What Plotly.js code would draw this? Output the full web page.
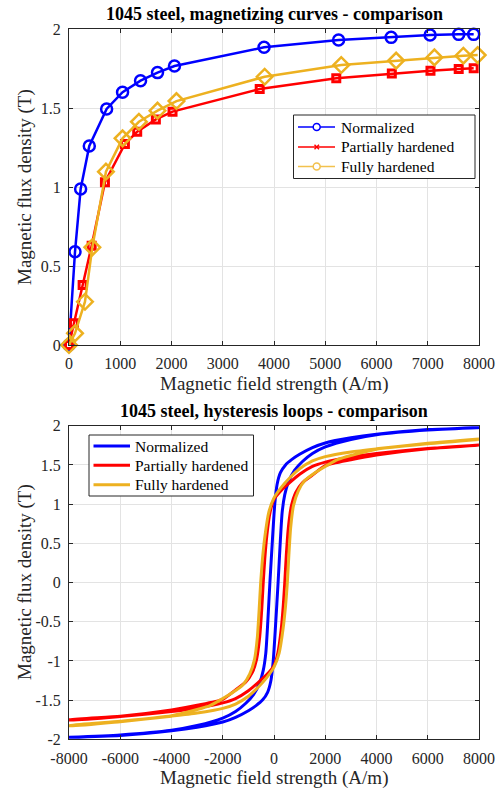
<!DOCTYPE html>
<html>
<head>
<meta charset="utf-8">
<script src="https://cdn.plot.ly/plotly-3.0.1.min.js"></script>
<style>html,body{margin:0;padding:0;background:#fff;}#chart{width:504px;height:788px;}</style>
</head>
<body>
<div id="chart"></div>
<script>
// ---- Magnetizing curves (top) ----
const normH = [0,117,227,396,734,1045,1396,1727,2058,3806,5260,6286,7046,7604,7896];
const normB = [0,0.59,0.987,1.26,1.494,1.60,1.673,1.724,1.766,1.884,1.930,1.947,1.962,1.966,1.966];
const partH = [0,97,266,442,701,1091,1331,1695,2020,3721,5215,6299,7053,7604,7896];
const partB = [0,0.137,0.38,0.628,1.03,1.272,1.35,1.428,1.477,1.62,1.688,1.719,1.736,1.747,1.751];
const fullH = [0,117,312,455,721,1045,1364,1727,2097,3818,5312,6383,7130,7695,7974];
const fullB = [0,0.074,0.274,0.618,1.097,1.308,1.413,1.483,1.544,1.698,1.772,1.80,1.82,1.831,1.835];

// ---- Hysteresis loops (bottom): descending branch then ascending branch ----
const normDescH = [8000,6000,4000,3000,2000,1500,1000,700,450,250,120,30,-60,-160,-250,-320,-420,-560,-800,-1100,-1500,-2000,-3000,-4000,-6000,-8000];
const normDescB = [1.975,1.95,1.89,1.845,1.78,1.72,1.635,1.57,1.50,1.40,1.25,1.0,0.55,0,-0.55,-0.9,-1.12,-1.28,-1.43,-1.54,-1.645,-1.73,-1.825,-1.885,-1.945,-1.975];
const normAscH = [-8000,-6000,-4000,-3000,-2000,-1500,-1000,-700,-450,-250,-120,-30,60,160,250,320,420,560,800,1100,1500,2000,3000,4000,6000,8000];
const normAscB = [-1.975,-1.95,-1.89,-1.845,-1.78,-1.72,-1.635,-1.57,-1.50,-1.40,-1.25,-1.0,-0.55,0,0.55,0.9,1.12,1.28,1.43,1.54,1.645,1.73,1.825,1.885,1.945,1.975];

const partDescH = [8000,6000,4000,3000,2000,1500,1000,600,300,0,-150,-280,-360,-420,-480,-560,-680,-850,-1100,-1500,-2000,-3000,-4000,-6000,-8000];
const partDescB = [1.755,1.71,1.645,1.60,1.535,1.48,1.38,1.27,1.18,1.06,0.9,0.6,0.3,0,-0.35,-0.7,-0.98,-1.15,-1.27,-1.37,-1.49,-1.565,-1.625,-1.705,-1.75];
const partAscH = [-8000,-6000,-4000,-3000,-2000,-1500,-1000,-600,-300,0,150,280,360,420,480,560,680,850,1100,1500,2000,3000,4000,6000,8000];
const partAscB = [-1.755,-1.71,-1.645,-1.60,-1.535,-1.48,-1.38,-1.27,-1.18,-1.06,-0.9,-0.6,-0.3,0,0.35,0.7,0.98,1.15,1.27,1.37,1.49,1.565,1.625,1.705,1.75];

const fullDescH = [8000,6000,4000,3000,2000,1500,1000,600,300,0,-200,-350,-450,-520,-580,-650,-760,-950,-1200,-1600,-2000,-2500,-3000,-4000,-6000,-8000];
const fullDescB = [1.83,1.775,1.705,1.665,1.605,1.55,1.45,1.33,1.22,1.08,0.9,0.6,0.3,0,-0.35,-0.7,-0.98,-1.17,-1.30,-1.40,-1.48,-1.57,-1.62,-1.70,-1.77,-1.825];
const fullAscH = [-8000,-6000,-4000,-3000,-2000,-1500,-1000,-600,-300,0,200,350,450,520,580,650,760,950,1200,1600,2000,2500,3000,4000,6000,8000];
const fullAscB = [-1.83,-1.775,-1.705,-1.665,-1.605,-1.55,-1.45,-1.33,-1.22,-1.08,-0.9,-0.6,-0.3,0,0.35,0.7,0.98,1.17,1.30,1.40,1.48,1.57,1.62,1.70,1.77,1.825];

const seriesNames = ['Normalized','Partially hardened','Fully hardened'];
const colors = ['#0000FF','#FF0000','#EDB120'];
const legendColors = ['#0000FF','#FF0000','#F2C14E'];

const topXTicks = [0,1000,2000,3000,4000,5000,6000,7000,8000];
const topYTicks = [0,0.5,1,1.5,2];
const topYText = ['0','0.5','1','1.5','2'];
const botXTicks = [-8000,-6000,-4000,-2000,0,2000,4000,6000,8000];
const botXText = ['-8000','-6000','-4000','-2000','0','2000','4000','6000','8000'];
const botYTicks = [-2,-1.5,-1,-0.5,0,0.5,1,1.5,2];
const botYText = ['-2','-1.5','-1','-0.5','0','0.5','1','1.5','2'];

const serif = 'Liberation Serif';
const axCol = '#262626';
const W = 504, H = 788;
const px = v => v / W;
const py = v => 1 - v / H;

const traces = [
  {x: normH, y: normB, type:'scatter', mode:'lines+markers', xaxis:'x', yaxis:'y', showlegend:false, cliponaxis:false,
   line:{color:colors[0], width:2.5}, marker:{symbol:'circle-open', size:11, color:colors[0], line:{width:2.5, color:colors[0]}}},
  {x: partH, y: partB, type:'scatter', mode:'lines+markers', xaxis:'x', yaxis:'y', showlegend:false, cliponaxis:false,
   line:{color:colors[1], width:2.5}, marker:{symbol:'square-open', size:7, color:colors[1], line:{width:3, color:colors[1]}}},
  {x: fullH, y: fullB, type:'scatter', mode:'lines+markers', xaxis:'x', yaxis:'y', showlegend:false, cliponaxis:false,
   line:{color:colors[2], width:2.5}, marker:{symbol:'diamond-open', size:12, color:colors[2], line:{width:2.5, color:colors[2]}}},
  {x: normDescH.concat(normAscH), y: normDescB.concat(normAscB), type:'scatter', mode:'lines', xaxis:'x2', yaxis:'y2',
   showlegend:false, line:{color:colors[0], width:3, shape:'spline', smoothing:0.6}},
  {x: partDescH.concat(partAscH), y: partDescB.concat(partAscB), type:'scatter', mode:'lines', xaxis:'x2', yaxis:'y2',
   showlegend:false, line:{color:colors[1], width:3, shape:'spline', smoothing:0.6}},
  {x: fullDescH.concat(fullAscH), y: fullDescB.concat(fullAscB), type:'scatter', mode:'lines', xaxis:'x2', yaxis:'y2',
   showlegend:false, line:{color:colors[2], width:3, shape:'spline', smoothing:0.6}}
];

const axBase = {
  showline:true, linecolor:axCol, linewidth:1, mirror:'allticks', ticks:'inside', ticklen:4, tickcolor:axCol,
  showgrid:true, gridcolor:'#e3e3e3', gridwidth:1, zeroline:false,
  tickfont:{family:serif, size:16, color:axCol}, ticklabelstandoff:4
};

// ---- hand-drawn legends (boxes, sample lines, symbols, texts) ----
const shapes = [];
const annotations = [];
// top legend
shapes.push({type:'rect', xref:'paper', yref:'paper', x0:px(293.5), x1:px(475), y0:py(115), y1:py(178.5), line:{color:axCol, width:1}, fillcolor:'#fff', layer:'above'});
const topRows = [127, 147, 166.5];
topRows.forEach((ry, i) => {
  shapes.push({type:'line', xref:'paper', yref:'paper', x0:px(298), x1:px(335), y0:py(ry), y1:py(ry), line:{color:legendColors[i], width:1.5}, layer:'above'});
  if (i === 1) {
    shapes.push({type:'line', xref:'paper', yref:'paper', x0:px(314.5), x1:px(319), y0:py(ry-2.2), y1:py(ry+2.2), line:{color:legendColors[i], width:1.5}, layer:'above'});
    shapes.push({type:'line', xref:'paper', yref:'paper', x0:px(314.5), x1:px(319), y0:py(ry+2.2), y1:py(ry-2.2), line:{color:legendColors[i], width:1.5}, layer:'above'});
  } else {
    shapes.push({type:'circle', xref:'paper', yref:'paper', x0:px(313.2), x1:px(320.2), y0:py(ry-3.5), y1:py(ry+3.5), line:{color:legendColors[i], width:1.5}, fillcolor:'#fff', layer:'above'});
  }
  annotations.push({text:seriesNames[i], xref:'paper', yref:'paper', x:px(338.5), y:py(ry), xanchor:'left', yanchor:'middle', showarrow:false, font:{family:serif, size:15.5, color:'#000'}});
});
// bottom legend
shapes.push({type:'rect', xref:'paper', yref:'paper', x0:px(89), x1:px(253.5), y0:py(435), y1:py(496), line:{color:axCol, width:1}, fillcolor:'#fff', layer:'above'});
const botRows = [446, 465.3, 484.7];
botRows.forEach((ry, i) => {
  shapes.push({type:'line', xref:'paper', yref:'paper', x0:px(93.5), x1:px(130), y0:py(ry), y1:py(ry), line:{color:colors[i], width:3}, layer:'above'});
  annotations.push({text:seriesNames[i], xref:'paper', yref:'paper', x:px(132.5), y:py(ry), xanchor:'left', yanchor:'middle', showarrow:false, font:{family:serif, size:15.5, color:'#000'}});
});

annotations.push(
  {text:'<b>1045 steel, magnetizing curves - comparison</b>', xref:'paper', yref:'paper', x:px(274), y:py(14), xanchor:'center', yanchor:'middle', showarrow:false, font:{family:serif, size:18, color:'#000'}},
  {text:'Magnetic field strength (A/m)', xref:'paper', yref:'paper', x:px(274), y:py(384), xanchor:'center', yanchor:'middle', showarrow:false, font:{family:serif, size:19, color:axCol}},
  {text:'Magnetic flux density (T)', xref:'paper', yref:'paper', x:px(25), y:py(187), xanchor:'center', yanchor:'middle', textangle:-90, showarrow:false, font:{family:serif, size:19, color:axCol}},
  {text:'<b>1045 steel, hysteresis loops - comparison</b>', xref:'paper', yref:'paper', x:px(274), y:py(411), xanchor:'center', yanchor:'middle', showarrow:false, font:{family:serif, size:18, color:'#000'}},
  {text:'Magnetic field strength (A/m)', xref:'paper', yref:'paper', x:px(274), y:py(778), xanchor:'center', yanchor:'middle', showarrow:false, font:{family:serif, size:19, color:axCol}},
  {text:'Magnetic flux density (T)', xref:'paper', yref:'paper', x:px(25), y:py(582), xanchor:'center', yanchor:'middle', textangle:-90, showarrow:false, font:{family:serif, size:19, color:axCol}}
);

const layout = {
  width:W, height:H, margin:{l:0,r:0,t:0,b:0}, paper_bgcolor:'#fff', plot_bgcolor:'#fff',
  font:{family:serif}, showlegend:false,
  xaxis: Object.assign({}, axBase, {domain:[px(69),px(479)], range:[0,8000], tickvals:topXTicks, anchor:'y'}),
  yaxis: Object.assign({}, axBase, {domain:[py(345), py(29)], range:[0,2], tickvals:topYTicks, ticktext:topYText, anchor:'x'}),
  xaxis2: Object.assign({}, axBase, {domain:[px(69),px(479)], range:[-8000,8000], tickvals:botXTicks, ticktext:botXText, anchor:'y2'}),
  yaxis2: Object.assign({}, axBase, {domain:[py(739.3), py(425.7)], range:[-2,2], tickvals:botYTicks, ticktext:botYText, anchor:'x2'}),
  shapes: shapes,
  annotations: annotations
};

Plotly.newPlot('chart', traces, layout, {displayModeBar:false, staticPlot:true});
</script>
</body>
</html>
